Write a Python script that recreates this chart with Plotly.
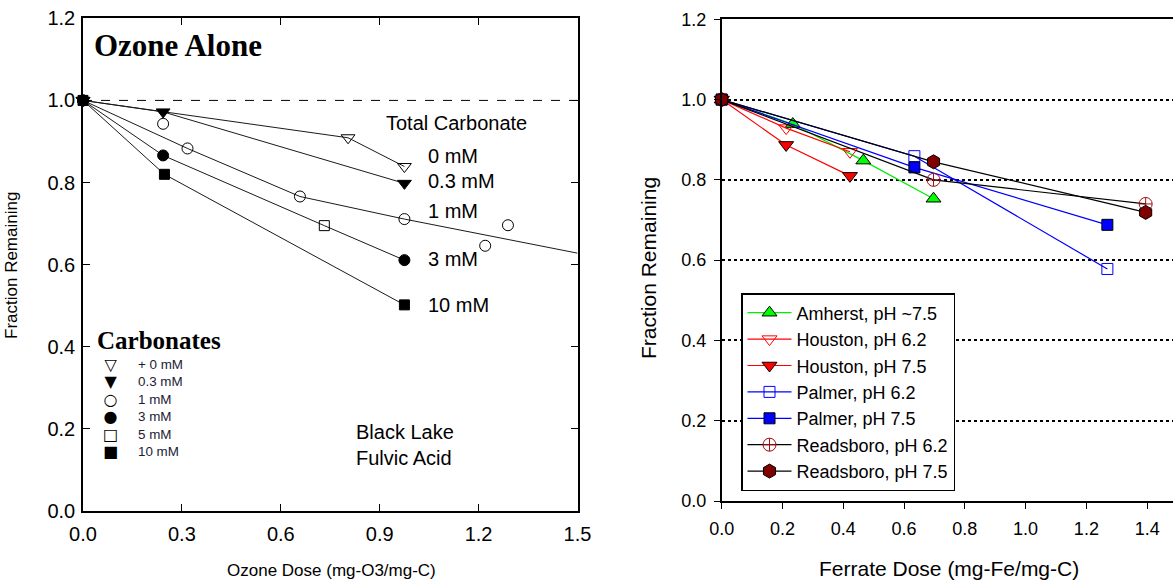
import plotly.graph_objects as go

W, H = 1173, 582

# ---------------- Left panel data (Ozone alone) ----------------
oz_0_x = [0.0, 0.804, 0.975]
oz_0_y = [1.0, 0.909, 0.839]
oz_03_x = [0.0, 0.243, 0.975]
oz_03_y = [1.0, 0.972, 0.798]
oz_1_x = [0.0, 0.243, 0.317, 0.658, 0.975, 1.22, 1.289]
oz_1_y = [1.0, 0.943, 0.883, 0.766, 0.711, 0.646, 0.696]
oz_1_line_x = [0.0, 0.317, 0.658, 0.975, 1.5]
oz_1_line_y = [1.0, 0.883, 0.766, 0.711, 0.628]
oz_3_x = [0.0, 0.243, 0.975]
oz_3_y = [1.0, 0.866, 0.611]
oz_3_line_x = [0.0, 0.243, 0.732, 0.975]
oz_3_line_y = [1.0, 0.866, 0.695, 0.611]
oz_5_x = [0.732]
oz_5_y = [0.695]
oz_10_x = [0.0, 0.247, 0.975]
oz_10_y = [1.0, 0.820, 0.502]

# ---------------- Right panel data (Ferrate) ----------------
series_names = ["Amherst, pH ~7.5", "Houston, pH 6.2", "Houston, pH 7.5",
                "Palmer, pH 6.2", "Palmer, pH 7.5", "Readsboro, pH 6.2", "Readsboro, pH 7.5"]
fe_x = [
    [0.0, 0.234, 0.466, 0.697],
    [0.0, 0.212, 0.422],
    [0.0, 0.212, 0.422],
    [0.0, 0.634, 1.269],
    [0.0, 0.634, 1.269],
    [0.0, 0.697, 1.395],
    [0.0, 0.697, 1.395],
]
fe_y = [
    [1.0, 0.939, 0.848, 0.753],
    [1.0, 0.929, 0.870],
    [1.0, 0.887, 0.810],
    [1.0, 0.859, 0.578],
    [1.0, 0.831, 0.688],
    [1.0, 0.800, 0.740],
    [1.0, 0.845, 0.719],
]

left_ticks = [0.0, 0.3, 0.6, 0.9, 1.2, 1.5]
y_ticks = [0.0, 0.2, 0.4, 0.6, 0.8, 1.0, 1.2]
right_xticks = [0.0, 0.2, 0.4, 0.6, 0.8, 1.0, 1.2, 1.4]

key_syms = ["▽", "▼", "○", "●", "□", "■"]
key_text = ["+ 0 mM", "0.3 mM", "1 mM", "3 mM", "5 mM", "10 mM"]

ARIAL = "Arial, Liberation Sans, sans-serif"
TIMES = "Times New Roman, Liberation Serif, serif"

def px(x):
    return x / W

def py(y):
    return 1 - y / H

fig = go.Figure()

LC = "#1a1a1a"
def add_left(x, y, mode, symbol=None, size=11):
    kw = dict(x=x, y=y, mode=mode, xaxis="x", yaxis="y", showlegend=False,
              hoverinfo="skip", cliponaxis=False)
    if "lines" in mode:
        kw["line"] = dict(color=LC, width=1)
    if symbol is not None:
        kw["marker"] = dict(symbol=symbol, size=size, color="black",
                            line=dict(color="black", width=1))
    fig.add_trace(go.Scatter(**kw))

add_left(oz_1_line_x, oz_1_line_y, "lines")
add_left(oz_3_line_x, oz_3_line_y, "lines")
add_left(oz_0_x, oz_0_y, "lines+markers", "triangle-down-open", 12)
add_left(oz_03_x, oz_03_y, "lines+markers", "triangle-down", 12)
add_left(oz_1_x, oz_1_y, "markers", "circle-open", 11)
add_left(oz_5_x, oz_5_y, "markers", "square-open", 10)
add_left(oz_3_x, oz_3_y, "markers", "circle", 11)
add_left(oz_10_x, oz_10_y, "lines+markers", "square", 10)

styles = [
    dict(line="#00ee00", symbol="triangle-up", mcolor="#00ff00", edge="black", size=13),
    dict(line="#ff0000", symbol="triangle-down-open", mcolor="#ff0000", edge="#ff0000", size=13),
    dict(line="#ff0000", symbol="triangle-down", mcolor="#ff0000", edge="black", size=13),
    dict(line="#0000ff", symbol="square-open", mcolor="#0000ff", edge="#0000ff", size=11),
    dict(line="#0000ff", symbol="square", mcolor="#0000ff", edge="black", size=11),
    dict(line="#000000", symbol="circle-cross-open", mcolor="#a01010", edge="#a01010", size=13),
    dict(line="#000000", symbol="hexagon", mcolor="#800000", edge="black", size=14),
]
for name, x, y, st in zip(series_names, fe_x, fe_y, styles):
    fig.add_trace(go.Scatter(
        x=x, y=y, name=name, mode="lines+markers", xaxis="x2", yaxis="y2",
        line=dict(color=st["line"], width=1.2),
        marker=dict(symbol=st["symbol"], size=st["size"], color=st["mcolor"],
                    line=dict(color=st["edge"], width=1)),
        cliponaxis=False, hoverinfo="skip"))

axis_font = dict(family=ARIAL, size=20, color="black")
rfont = dict(family=ARIAL, size=18, color="black")
fig.update_layout(
    width=W, height=H,
    margin=dict(l=0, r=0, t=0, b=0, autoexpand=False),
    paper_bgcolor="white", plot_bgcolor="white",
    xaxis=dict(domain=[px(83), px(577.5)], range=[0, 1.5], tickvals=left_ticks,
               tickformat=".1f", ticks="inside", ticklen=7, tickcolor="black",
               showline=True, linecolor="black", linewidth=1.5, mirror="allticks",
               showgrid=False, zeroline=False, tickfont=axis_font, anchor="y",
               ticklabelstandoff=4, automargin=False),
    yaxis=dict(domain=[py(511), py(18.3)], range=[0, 1.2], tickvals=y_ticks,
               tickformat=".1f", ticks="inside", ticklen=7, tickcolor="black",
               showline=True, linecolor="black", linewidth=1.5, mirror="allticks",
               showgrid=False, zeroline=False, tickfont=axis_font, anchor="x",
               ticklabelstandoff=2, automargin=False),
    xaxis2=dict(domain=[px(721.7), 1.0], range=[0, 1.485], tickvals=right_xticks,
                tickformat=".1f", ticks="outside", ticklen=6, tickcolor="black",
                showline=True, linecolor="black", linewidth=1.5, mirror=True,
                showgrid=False, zeroline=False, tickfont=rfont, anchor="y2",
                ticklabelstandoff=5, automargin=False),
    yaxis2=dict(domain=[py(501), py(19.3)], range=[0, 1.2], tickvals=y_ticks,
                tickformat=".1f", ticks="outside", ticklen=6, tickcolor="black",
                showline=True, linecolor="black", linewidth=1.5, mirror=False,
                showgrid=True, gridcolor="black", griddash="dot", gridwidth=1.5,
                zeroline=False, tickfont=rfont, anchor="x2",
                ticklabelstandoff=4, automargin=False),
    legend=dict(x=px(741), y=py(293), xanchor="left", yanchor="top",
                bgcolor="white", bordercolor="black", borderwidth=1.5,
                font=dict(family=ARIAL, size=18, color="black"),
                tracegroupgap=0, itemwidth=44),
    showlegend=True,
)

fig.add_shape(type="line", xref="x domain", yref="y", x0=0, x1=1, y0=1.0, y1=1.0,
              line=dict(color="black", width=1, dash="dash"))

def ann(text, x, y, size, family=ARIAL, xanchor="left", bold=False, angle=0,
        color="black", align="left"):
    fig.add_annotation(text=f"<b>{text}</b>" if bold else text,
                       x=px(x), y=py(y), xref="paper", yref="paper",
                       xanchor=xanchor, yanchor="middle", showarrow=False, align=align,
                       textangle=angle, font=dict(family=family, size=size, color=color))

ann("Ozone Alone", 92, 46, 31, TIMES, bold=True)
ann("Total Carbonate", 384, 123, 20)
ann("0 mM", 426, 156, 20)
ann("0.3 mM", 426, 181, 20)
ann("1 mM", 426, 211, 20)
ann("3 mM", 426, 259, 20)
ann("10 mM", 426, 305, 20)
ann("Carbonates", 95, 340, 25, TIMES, bold=True)
# key for the left panel: one block of symbols and one block of labels
sym_block = "<br>".join(f"<span style='font-size:16px'>{s}</span>" for s in key_syms)
ann(sym_block, 110, 408, 13.4, "DejaVu Sans", xanchor="center", align="center")
ann("<br>".join(key_text), 136, 408, 13.4, color="#1c1c38")
ann("Black Lake", 354, 432, 20)
ann("Fulvic Acid", 354, 458, 20)
ann("Fraction Remaining", 12, 266, 17, xanchor="center", angle=-90)
ann("Ozone Dose (mg-O3/mg-C)", 331, 570, 17, xanchor="center")
ann("Fraction Remaining", 649, 268, 21, xanchor="center", angle=-90)
ann("Ferrate Dose (mg-Fe/mg-C)", 949, 568, 21, xanchor="center")

fig.write_html("out.html", config={"displayModeBar": False},
               post_script="document.body.style.margin='0px';document.body.style.padding='0px';")
